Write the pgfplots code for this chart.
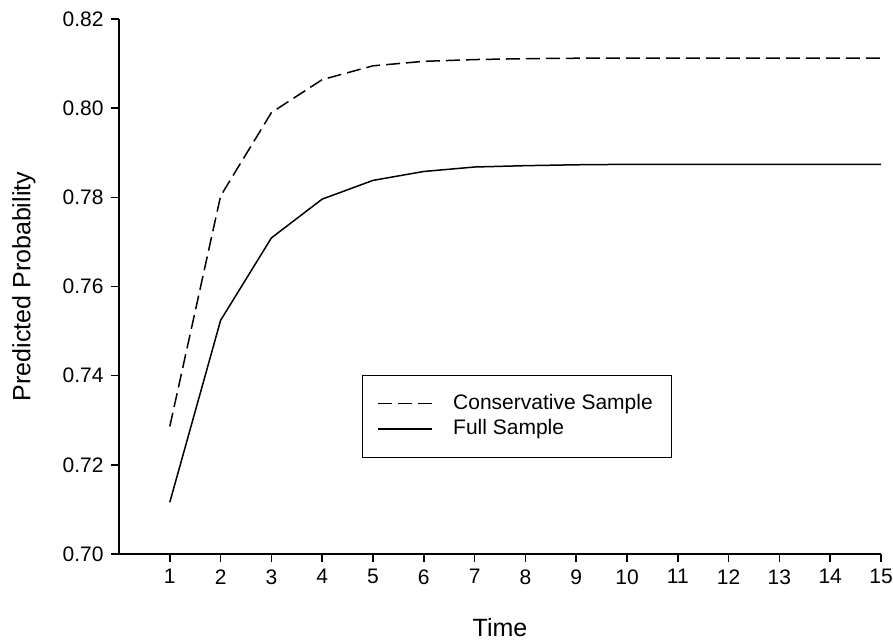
\documentclass[border=0pt]{standalone}
\usepackage{fontspec}
\setmainfont{Liberation Sans}
\usepackage{pgfplots}
\pgfplotsset{compat=1.18}
\begin{document}
\fontsize{10.5}{12.6}\selectfont
\begin{tikzpicture}
\begin{axis}[
  width=381pt, height=267.5pt, scale only axis,
  xmin=0, xmax=15, ymin=0.70, ymax=0.82,
  axis lines*=left,
  axis line style={line width=0.8pt, -},
  xtick={1,2,3,4,5,6,7,8,9,10,11,12,13,14,15},
  ytick={0.70,0.72,0.74,0.76,0.78,0.80,0.82},
  tick align=outside, major tick length=4pt,
  tick style={line width=0.8pt, black},
  /pgf/number format/assume math mode=true,
  ticklabel style={font=\fontsize{10.5}{12.6}\selectfont},
  yticklabel style={/pgf/number format/fixed, /pgf/number format/fixed zerofill, /pgf/number format/precision=2},
  xlabel={Time}, ylabel={Predicted Probability},
  label style={font=\fontsize{12.5}{15}\selectfont},
  xlabel style={at={(axis description cs:0.5,-0.1383)}, anchor=center},
  ylabel style={at={(axis description cs:-0.1247,0.5)}, anchor=center, rotate=0},
  legend style={at={(rel axis cs:0.319,0.335)}, anchor=north west, draw=black, line width=0.6pt, fill=white,
    font=\fontsize{10.5}{12.6}\selectfont, inner xsep=7.5pt, inner ysep=7.5pt, row sep=-0.5pt,
    /tikz/every odd column/.append style={column sep=8pt}},
  legend cell align=left,
  legend image code/.code={\draw[#1] (0pt,0pt) -- (27pt,0pt);},
]
\addplot[black, line width=0.75pt, dash pattern=on 7pt off 3pt] coordinates {
(1,0.7286) (2,0.7803) (3,0.7990) (4,0.8064) (5,0.8095) (6,0.8105) (7,0.8109) (8,0.8111)
(9,0.8112) (10,0.8112) (11,0.8112) (12,0.8112) (13,0.8112) (14,0.8112) (15,0.8112)};
\addlegendentry{Conservative Sample}
\addplot[black, line width=0.75pt] coordinates {
(1,0.7116) (2,0.7524) (3,0.7709) (4,0.7796) (5,0.7838) (6,0.7858) (7,0.7868) (8,0.7871)
(9,0.7873) (10,0.7874) (11,0.7874) (12,0.7874) (13,0.7874) (14,0.7874) (15,0.7874)};
\addlegendentry{Full Sample}
\end{axis}
\pgfresetboundingbox
\path ([xshift=-59.5pt,yshift=-43.5pt]current axis.south west) rectangle ([xshift=6pt,yshift=9.5pt]current axis.north east);
\end{tikzpicture}
\end{document}
